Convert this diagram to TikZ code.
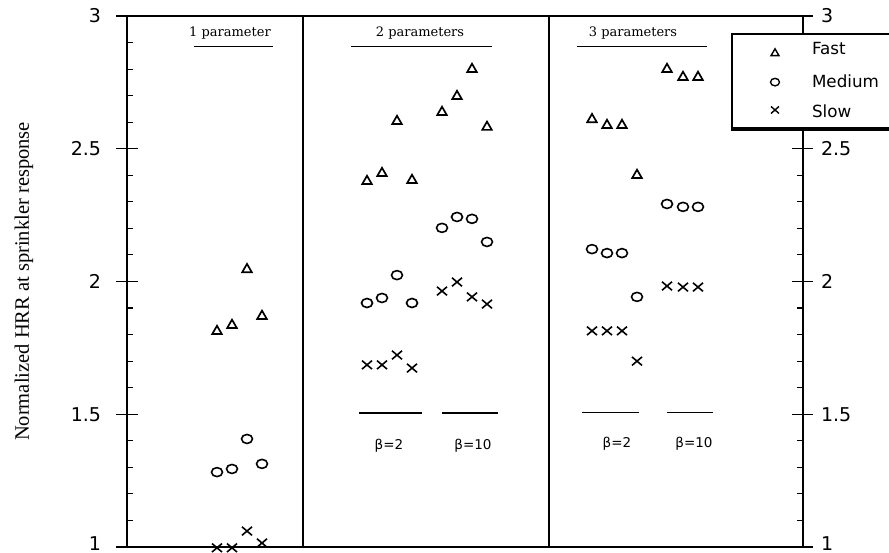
\documentclass[tikz,border=0pt]{standalone}
\usepackage{fontspec}
\setmainfont{Liberation Serif}
\setsansfont{DejaVu Sans}
\newfontfamily\headfont{DejaVu Serif}
\usetikzlibrary{shapes.geometric,shapes.misc}
\begin{document}
\begin{tikzpicture}[x=1pt,y=265.5pt,inner sep=0pt,outer sep=0pt,line width=1.4pt,
fastmk/.style={draw,regular polygon,regular polygon sides=3,minimum size=11pt,line width=1.7pt,yshift=-1.2pt},
medmk/.style={draw,ellipse,minimum width=11pt,minimum height=9pt,line width=1.6pt},
slowmk/.style={draw,cross out,minimum width=10pt,minimum height=8.5pt,line width=1.6pt},
ticklab/.style={font=\sffamily\fontsize{19}{19}\selectfont},
headlab/.style={font=\headfont\fontsize{13}{13}\selectfont},
betalab/.style={font=\sffamily\fontsize{13.5}{14}\selectfont},
leglab/.style={font=\sffamily\fontsize{16.75}{17}\selectfont,anchor=west}]

\useasboundingbox (0,0.98117) rectangle (889,3.06026);

\draw (116,3) -- (813,3);
\draw (116,1) -- (813,1);
\draw (127,1) -- (127,3);
\draw (803,1) -- (803,3);
\draw (303,1) -- (303,3);
\draw (549,1) -- (549,3);
\foreach \i in {1,...,19} {
  \draw[line width=1.1pt] (127,1+\i/10) -- ++(6,0);
  \draw[line width=1.1pt] (803,1+\i/10) -- ++(-6,0);
}
\foreach \t in {1.5,2,2.5} {
  \draw (116,\t) -- (138,\t);
  \draw (792,\t) -- (813,\t);
}
\foreach \t [count=\k] in {1.5,2,2.5,3} {
  \node[ticklab,anchor=east] (tl\k) at (101,\t) {\t};
  \node[ticklab,anchor=west] (tr\k) at (821,\t) {\t};
}
\node[ticklab,anchor=south east] (tl0) at (101,0.9885) {1};
\node[ticklab,anchor=south west] (tr0) at (821,0.9885) {1};

\node[rotate=90,font=\fontsize{20.5}{21}\selectfont] (ylab) at (24,2) {Normalized HRR at sprinkler response};

\node[headlab] (h1) at (230,2.936) {1 parameter};
\node[headlab] (h2) at (420,2.936) {2 parameters};
\node[headlab] (h3) at (633,2.936) {3 parameters};
\draw[line width=1.2pt] (194,2.885) -- (273,2.885);
\draw[line width=1.2pt] (351,2.885) -- (492,2.885);
\draw[line width=1.2pt] (577,2.885) -- (707,2.885);

\draw[line width=1.2pt] (359,1.505) -- (422,1.505);
\draw[line width=1.2pt] (442,1.505) -- (498,1.505);
\draw[line width=1.2pt] (582,1.506) -- (639,1.506);
\draw[line width=1.2pt] (667,1.506) -- (713,1.506);
\node[betalab] (b1) at (389,1.383) {β=2};
\node[betalab] (b2) at (473,1.383) {β=10};
\node[betalab] (b3) at (617,1.388) {β=2};
\node[betalab] (b4) at (694,1.388) {β=10};

\draw[fill=white,line width=2pt] (732,2.578) rectangle (895,2.932);
\draw[line width=3.5pt] (731,2.574) -- (889,2.574);
\node[fastmk,minimum size=9pt,line width=1.4pt] (lf) at (775,2.864) {};
\node[medmk,minimum width=9pt,minimum height=7.5pt,line width=1.4pt] (lm) at (775,2.751) {};
\node[slowmk,minimum width=8pt,minimum height=7pt,line width=1.4pt] (ls) at (775,2.646) {};
\node[leglab] (tf) at (812,2.876) {Fast};
\node[leglab] (tm) at (812,2.755) {Medium};
\node[leglab] (ts) at (812,2.642) {Slow};

\foreach \x/\f/\m/\s in {217/1.817/1.282/0.997, 232/1.84/1.294/0.997, 247/2.05/1.407/1.06, 262/1.874/1.313/1.015,
  367/2.382/1.919/1.686, 382/2.412/1.938/1.686, 397/2.608/2.024/1.723, 412/2.386/1.919/1.674,
  442/2.642/2.202/1.964, 457/2.702/2.243/1.998, 472/2.804/2.236/1.942, 487/2.586/2.149/1.915,
  592/2.615/2.122/1.814, 607/2.593/2.107/1.814, 622/2.593/2.107/1.814, 637/2.405/1.942/1.70,
  667/2.804/2.292/1.983, 683/2.774/2.281/1.979, 698/2.774/2.281/1.979} {
  \node[fastmk] (f\x) at (\x,\f) {};
  \node[medmk] (m\x) at (\x,\m) {};
  \node[slowmk] (s\x) at (\x,\s) {};
}
\end{tikzpicture}
\end{document}
